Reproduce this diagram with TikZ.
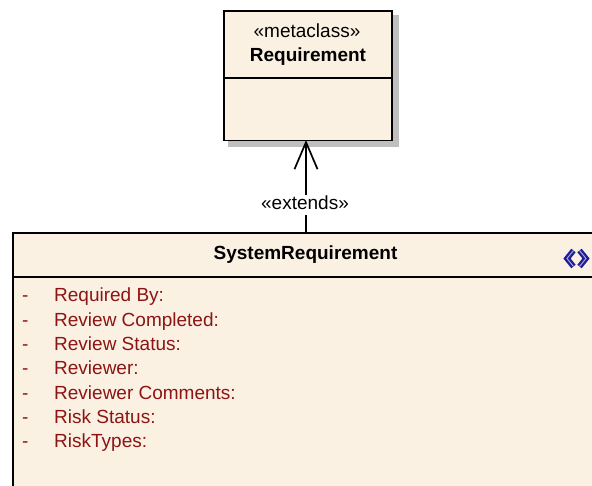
\documentclass[tikz,border=0pt]{standalone}
\usepackage{fontspec}
\setmainfont{Liberation Sans}
\usetikzlibrary{arrows.meta}
\usetikzlibrary{positioning}
\definecolor{boxfill}{RGB}{251,241,227}
\definecolor{attrred}{RGB}{140,20,20}
\definecolor{iconblue}{RGB}{30,30,150}
\tikzset{basic box/.style={draw,line width=1.8pt,fill=boxfill,inner sep=0pt}}
\tikzset{class box/.style={basic box,rectangle,anchor=north west}}
\tikzset{class text/.style={font=\fontsize{19}{22}\selectfont,inner sep=0pt,text height=14pt,text depth=4pt}}
\tikzset{class name/.style={class text,font=\fontsize{19}{22}\selectfont\bfseries}}
\tikzset{attr text/.style={class text,text=attrred,anchor=west}}
\tikzset{edge/.style={draw,line width=1.7pt}}
\tikzset{chevron/.style={iconblue,line width=5.6pt,miter limit=10}}
\tikzset{chevron core/.style={white!60!iconblue,line width=1pt}}

\begin{document}
\begin{tikzpicture}
    [
      x=1pt,y=-1pt,
    ]
    \useasboundingbox (0,0) rectangle (592,485);
    \clip (0,0) rectangle (592,485);

    % shadow
    \fill [black!25] (228,15) rectangle (399,147);

    % boxes
    \node [class box,minimum width=168.4pt,minimum height=129.6pt] (req) at (223,10) {};
    \node [class box,minimum width=640pt,minimum height=300pt] (base) at (12,232) {};
    \path [edge] (req.west |- 0,78) -- (req.east |- 0,78);
    \path [edge] (base.west |- 0,277) -- (592,277);

    % titles
    \node [class text] (reqstereo) at (307,32.5) {«metaclass»};
    \node [class name] (reqname) at (308,56.5) {Requirement};
    \node [class name] (basename) at (305.5,254.5) {SystemRequirement};

    % attributes
    \foreach \i/\l [evaluate=\i as \y using 296.8+\i*24.3] in
    {
      0/Required By:,
      1/Review Completed:,
      2/Review Status:,
      3/Reviewer:,
      4/Reviewer Comments:,
      5/Risk Status:,
      6/RiskTypes:
    }
    {
    \node [attr text] (dash\i) at (22,\y) {-};
    \node [attr text] (attr\i) at (54,\y) {\l};
    }

    % extends edge
    \coordinate (foot) at (306,232);
    \coordinate (head) at (306,140);
    \path [edge,-{Straight Barb[length=27pt,width=23pt,line width=1.7pt]}] (foot) -- (head);
    \node [class text,fill=white,inner ysep=1pt] (extends) at (305,204.5) {«extends»};

    % icon
    \draw [chevron] (573.5,250.5) -- (567,258.5) -- (573.5,266.5);
    \draw [chevron] (579.5,250.5) -- (586,258.5) -- (579.5,266.5);
    \draw [chevron core] (573.5,250.5) -- (567,258.5) -- (573.5,266.5);
    \draw [chevron core] (579.5,250.5) -- (586,258.5) -- (579.5,266.5);
  \end{tikzpicture}
\end{document}
